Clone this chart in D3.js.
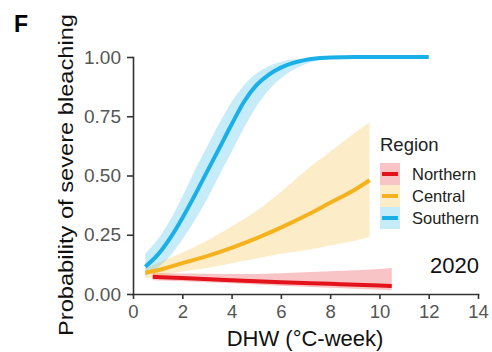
<!DOCTYPE html>
<html lang="en">
<head>
  <meta charset="UTF-8" />
  <title>Probability of severe bleaching</title>
  <style>
    body { margin: 0; background: #fff; }
    svg text { font-family: "Liberation Sans", Arial, sans-serif; }
    .axis path, .axis line { stroke: #333; stroke-width: 1.6; }
    .axis text { fill: #555; }
  </style>
</head>
<body>
<div id="chart"></div>
<script src="https://d3js.org/d3.v7.min.js"></script>
<script>
  // region names and colours
  const regions = ['Northern', 'Central', 'Southern'];
  const regionColors = ['#e3121b', '#f5b21f', '#1aafe6'];

  // Northern: fitted line + 95% band
  const northernDHW  = [0.8, 2, 4, 6, 8, 10, 10.5];
  const northernFit  = [0.073, 0.067, 0.058, 0.050, 0.043, 0.036, 0.034];
  const northernLow  = [0.058, 0.054, 0.045, 0.035, 0.026, 0.018, 0.016];
  const northernHigh = [0.090, 0.086, 0.084, 0.088, 0.096, 0.106, 0.110];

  // Central
  const centralDHW  = [0.5, 1, 2, 3, 4, 5, 6, 7, 8, 9, 9.6];
  const centralFit  = [0.090, 0.100, 0.130, 0.160, 0.195, 0.235, 0.280, 0.330, 0.385, 0.440, 0.480];
  const centralLow  = [0.065, 0.075, 0.095, 0.110, 0.130, 0.150, 0.170, 0.185, 0.205, 0.225, 0.240];
  const centralHigh = [0.110, 0.130, 0.175, 0.225, 0.285, 0.350, 0.430, 0.520, 0.600, 0.680, 0.725];

  // Southern
  const southernDHW  = [0.5, 1, 1.5, 2, 2.5, 3, 3.5, 4, 4.5, 5, 5.5, 6, 6.5, 7, 7.5, 8, 9, 10, 11, 12];
  const southernFit  = [0.115, 0.165, 0.235, 0.320, 0.415, 0.515, 0.615, 0.715, 0.810, 0.880, 0.925, 0.955, 0.975, 0.988, 0.995, 0.998, 1, 1, 1, 1];
  const southernLow  = [0.075, 0.110, 0.160, 0.230, 0.310, 0.400, 0.500, 0.600, 0.700, 0.790, 0.860, 0.910, 0.945, 0.970, 0.985, 0.993, 0.998, 1, 1, 1];
  const southernHigh = [0.170, 0.230, 0.310, 0.410, 0.520, 0.620, 0.720, 0.810, 0.880, 0.930, 0.960, 0.980, 0.990, 0.995, 1, 1, 1, 1, 1, 1];

  const xTicks = [0, 2, 4, 6, 8, 10, 12, 14];
  const yTicks = [0, 0.25, 0.5, 0.75, 1];

  const series = [
    {dhw: northernDHW, fit: northernFit, low: northernLow, high: northernHigh},
    {dhw: centralDHW, fit: centralFit, low: centralLow, high: centralHigh},
    {dhw: southernDHW, fit: southernFit, low: southernLow, high: southernHigh}
  ].map((s, i) => ({
    name: regions[i],
    color: regionColors[i],
    points: s.dhw.map((d, j) => ({x: d, y: s.fit[j], lo: s.low[j], hi: s.high[j]}))
  }));

  const W = 492, H = 352;
  const svg = d3.select('#chart').append('svg').attr('width', W).attr('height', H);

  const x = d3.scaleLinear().domain([0, 14]).range([133, 478]);
  const y = d3.scaleLinear().domain([0, 1]).range([294, 57]);

  // ribbons first
  const area = d3.area().x(d => x(d.x)).y0(d => y(d.lo)).y1(d => y(d.hi)).curve(d3.curveMonotoneX);
  svg.selectAll('.band').data(series).join('path')
     .attr('class', 'band')
     .attr('d', d => area(d.points))
     .attr('fill', d => d.color).attr('fill-opacity', 0.25);

  const line = d3.line().x(d => x(d.x)).y(d => y(d.y)).curve(d3.curveMonotoneX);
  svg.selectAll('.fit').data(series).join('path')
     .attr('class', 'fit')
     .attr('d', d => line(d.points))
     .attr('fill', 'none').attr('stroke', d => d.color).attr('stroke-width', 4);

  // axes
  svg.append('g').attr('class', 'axis').attr('transform', 'translate(0,294)')
     .call(d3.axisBottom(x).tickValues(xTicks).tickFormat(d3.format('d')).tickSizeInner(5).tickSizeOuter(0).tickPadding(6))
     .call(g => g.selectAll('text').style('font-size', '18.5px'));
  svg.append('g').attr('class', 'axis').attr('transform', 'translate(133,0)')
     .call(d3.axisLeft(y).tickValues(yTicks).tickFormat(d3.format('.2f')).tickSizeInner(6).tickSizeOuter(0).tickPadding(6))
     .call(g => g.selectAll('text').style('font-size', '19px'));
  svg.selectAll('.axis .domain').attr('stroke-linecap', 'square');

  // titles
  svg.append('text').attr('x', 305).attr('y', 346).attr('text-anchor', 'middle')
     .style('font-size', '22px').attr('fill', '#111').text('DHW (°C-week)');
  svg.append('text').attr('transform', 'translate(73,175) rotate(-90)').attr('text-anchor', 'middle')
     .attr('textLength', 322).attr('lengthAdjust', 'spacingAndGlyphs')
     .style('font-size', '21px').attr('fill', '#111').text('Probability of severe bleaching');
  svg.append('text').attr('x', 14).attr('y', 32)
     .style('font-size', '23px').style('font-weight', 'bold').attr('fill', '#000').text('F');
  svg.append('text').attr('x', 479).attr('y', 273).attr('text-anchor', 'end')
     .style('font-size', '22px').attr('fill', '#111').text('2020');

  // legend
  const legend = svg.append('g').attr('transform', 'translate(380,0)');
  legend.append('text').attr('x', 0).attr('y', 151).style('font-size', '18.5px').attr('fill', '#222').text('Region');
  const item = legend.selectAll('.item').data(series).join('g')
     .attr('class', 'item').attr('transform', (d, i) => `translate(0,${163 + i * 22})`);
  item.append('rect').attr('width', 20).attr('height', 22)
     .attr('fill', d => d.color).attr('fill-opacity', 0.25);
  item.append('line').attr('x1', 2).attr('x2', 18).attr('y1', 11).attr('y2', 11)
     .attr('stroke', d => d.color).attr('stroke-width', 4);
  item.append('text').attr('x', 32).attr('y', 11).attr('dy', '0.36em')
     .style('font-size', '16.5px').attr('fill', '#222').text(d => d.name);
</script>
</body>
</html>
